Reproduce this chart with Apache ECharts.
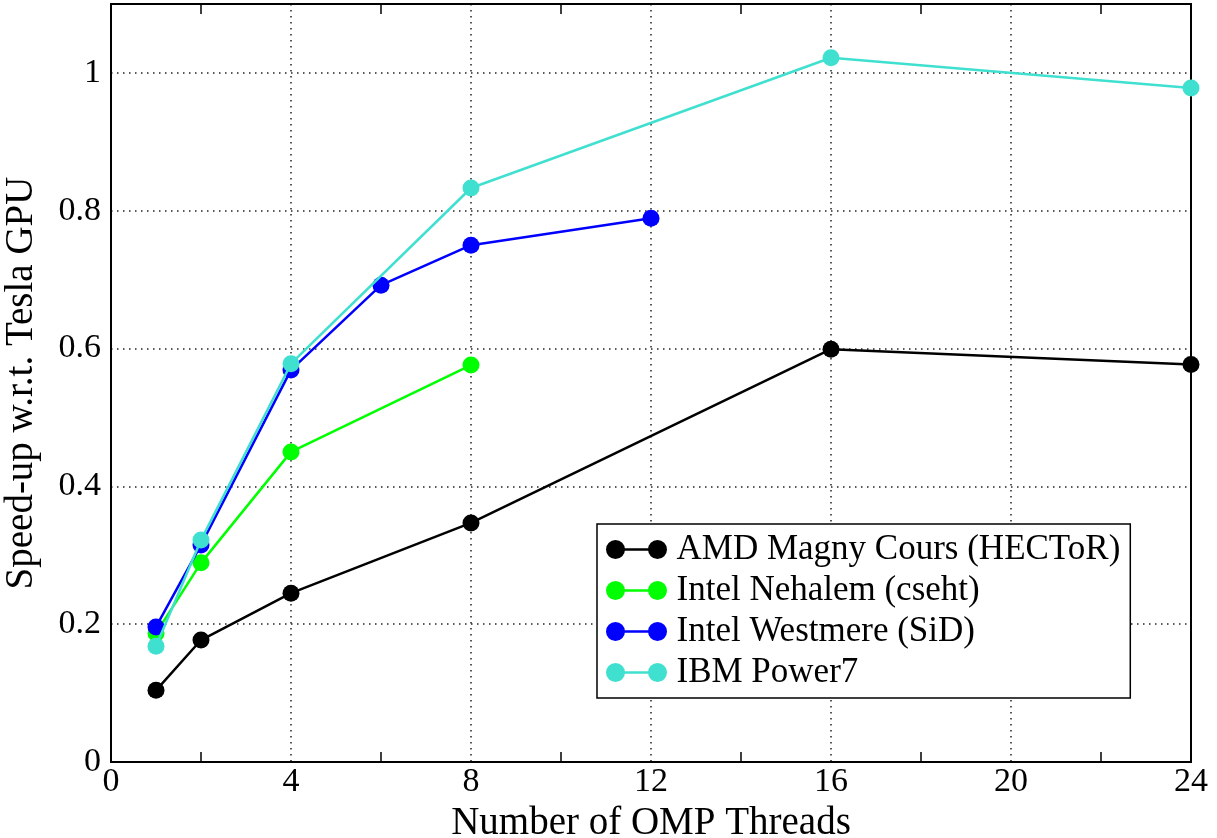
<!DOCTYPE html>
<html>
<head>
<meta charset="utf-8">
<script src="https://cdn.jsdelivr.net/npm/echarts@6/dist/echarts.min.js"></script>
<style>
  html, body { margin: 0; padding: 0; background: #fff; }
  #chart { width: 1217px; height: 838px; }
</style>
</head>
<body>
<div id="chart"></div>
<script>
// values: [threads, speed-up]
var seriesNames = ['AMD Magny Cours (HECToR)', 'Intel Nehalem (cseht)', 'Intel Westmere (SiD)', 'IBM Power7'];
var seriesColors = ['#000000', '#00ff00', '#0000ff', '#40e0d0'];
var amdData = [[1, 0.104], [2, 0.177], [4, 0.245], [8, 0.347], [16, 0.599], [24, 0.577]];
var nehalemData = [[1, 0.187], [2, 0.289], [4, 0.450], [8, 0.576]];
var westmereData = [[1, 0.196], [2, 0.315], [4, 0.569], [6, 0.692], [8, 0.750], [12, 0.789]];
var powerData = [[1, 0.168], [2, 0.322], [4, 0.578], [8, 0.833], [16, 1.022], [24, 0.978]];
var xTicks = [0, 4, 8, 12, 16, 20, 24];
var yTicks = [0, 0.2, 0.4, 0.6, 0.8, 1];

var FONT = 'Liberation Serif';
var allData = [amdData, nehalemData, westmereData, powerData];

var chart = echarts.init(document.getElementById('chart'), null, {renderer: 'canvas'});

var gridLine = {
  show: true,
  lineStyle: {color: '#222', width: 1.5, type: [1.5, 4.5]}
};
// marker - line - marker, like the matlab legend
var legendIcon = 'path://M0,9.5A9.5,9.5,0,1,1,19,9.5A9.5,9.5,0,1,1,0,9.5Z' +
  'M42,9.5A9.5,9.5,0,1,1,61,9.5A9.5,9.5,0,1,1,42,9.5Z' +
  'M18,8.2L43,8.2L43,10.8L18,10.8Z';

var series = [];
for (var i = 0; i < allData.length; i++) {
  series.push({
    name: seriesNames[i],
    type: 'line',
    data: allData[i],
    symbol: 'circle',
    symbolSize: 17,
    clip: false,
    color: seriesColors[i],
    lineStyle: {width: 2.5, color: seriesColors[i]},
    itemStyle: {color: seriesColors[i]},
    z: 3 + i
  });
}

chart.setOption({
  animation: false,
  backgroundColor: '#fff',
  textStyle: {fontFamily: FONT, color: '#000'},
  grid: {left: 111, right: 26, top: 4, bottom: 76, outerBoundsMode: 'none', containLabel: false,
    show: true, borderColor: '#000', borderWidth: 2, backgroundColor: '#fff'},
  legend: {
    left: 597,
    top: 524,
    orient: 'vertical',
    icon: legendIcon,
    itemWidth: 62,
    itemHeight: 19,
    itemGap: 6,
    padding: [8, 10, 8, 9],
    backgroundColor: '#fff',
    borderColor: '#000',
    borderWidth: 1.5,
    borderRadius: 0,
    data: seriesNames,
    textStyle: {fontFamily: FONT, fontSize: 35, lineHeight: 34, color: '#000', padding: [0, 0, 0, 4]}
  },
  xAxis: [{
    type: 'value',
    min: 0,
    max: 24,
    interval: 4,
    name: 'Number of OMP Threads',
    nameLocation: 'middle',
    nameGap: 40,
    nameTextStyle: {fontFamily: FONT, fontSize: 39, color: '#000'},
    axisLine: {show: true, onZero: false, lineStyle: {color: '#000', width: 2}},
    axisTick: {show: false, inside: true},
    minorTick: {show: true, splitNumber: 2, length: 10, lineStyle: {color: '#000', width: 1.5}},
    axisLabel: {fontFamily: FONT, fontSize: 34, color: '#000', margin: 3,
      formatter: function (v) { return xTicks.indexOf(v) >= 0 ? String(v) : ''; }},
    splitLine: gridLine
  }, {
    type: 'value',
    position: 'top',
    min: 0,
    max: 24,
    interval: 4,
    axisLine: {show: true, onZero: false, lineStyle: {color: '#000', width: 2}},
    axisTick: {show: false, inside: true},
    minorTick: {show: true, splitNumber: 2, length: 10, lineStyle: {color: '#000', width: 1.5}},
    axisLabel: {show: false},
    splitLine: {show: false}
  }],
  yAxis: [{
    type: 'value',
    min: 0,
    max: 1.1,
    interval: 0.2,
    name: 'Speed-up w.r.t. Tesla GPU',
    nameLocation: 'middle',
    nameGap: 70,
    nameTextStyle: {fontFamily: FONT, fontSize: 39, color: '#000'},
    axisLine: {show: true, onZero: false, lineStyle: {color: '#000', width: 2}},
    axisTick: {show: false},
    axisLabel: {fontFamily: FONT, fontSize: 34, color: '#000', margin: 10, showMaxLabel: false,
      formatter: function (v) {
        for (var k = 0; k < yTicks.length; k++) {
          if (Math.abs(yTicks[k] - v) < 1e-6) return String(yTicks[k]);
        }
        return '';
      }},
    splitLine: gridLine
  }, {
    type: 'value',
    position: 'right',
    min: 0,
    max: 1.1,
    interval: 0.2,
    axisLine: {show: true, onZero: false, lineStyle: {color: '#000', width: 2}},
    axisTick: {show: false},
    axisLabel: {show: false},
    splitLine: {show: false}
  }],
  series: series
});
</script>
</body>
</html>
